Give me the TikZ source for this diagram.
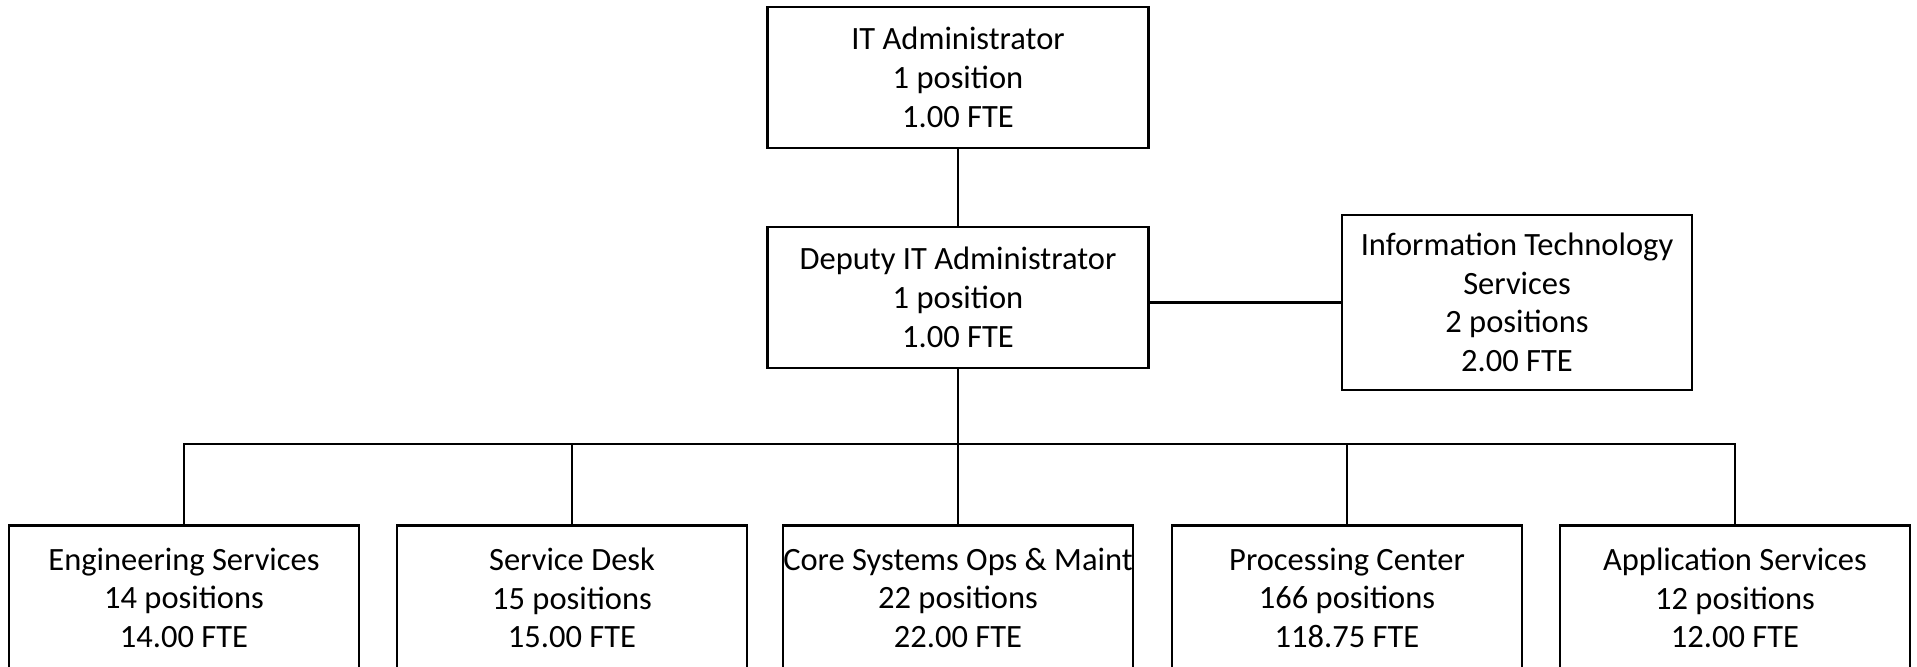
\documentclass[tikz,border=0pt]{standalone}
\usepackage{fontspec}
\setmainfont{Carlito}
\begin{document}
\begin{tikzpicture}[font=\fontsize{18.5}{22}\selectfont,line width=1.5pt,
	box/.style={draw,align=center,minimum width=7.62cm,minimum height=2.82cm,inner xsep=0pt},
	unit/.style={draw,align=center,minimum width=7cm,inner xsep=0pt,inner ysep=0.45cm,anchor=north}]
	\useasboundingbox (0,0) rectangle (38.34,13.34);
	\node[box] (it) at (19.16,11.79) {IT Administrator\\1 position\\1.00 FTE};
	\node[box] (dep) at (19.16,7.39) {Deputy IT Administrator\\1 position\\1.00 FTE};
	\node[box,minimum width=7cm,minimum height=3.5cm] (its) at (30.34,7.29) {Information Technology\\Services\\2 positions\\2.00 FTE};
	\coordinate (bus) at (19.16,4.46);
	% bottom row runs past the lower edge
	\foreach \n/\x/\t/\p/\f in {eng/3.68/Engineering Services/14 positions/14.00 FTE,
		desk/11.44/Service Desk/15 positions/15.00 FTE,
		core/19.16/Core Systems Ops \& Maint/22 positions/22.00 FTE,
		proc/26.94/Processing Center/166 positions/118.75 FTE,
		app/34.7/Application Services/12 positions/12.00 FTE}
		\node[unit] (\n) at (\x,2.86) {\t\\\p\\\f\\\mbox{}};
	\draw (it) -- (dep);
	\draw (its.west) -- (its.west -| dep.east);
	\draw (dep) -- (core);
	\foreach \n in {eng,desk,proc,app} \draw (\n.north) |- (bus);
\end{tikzpicture}
\end{document}
